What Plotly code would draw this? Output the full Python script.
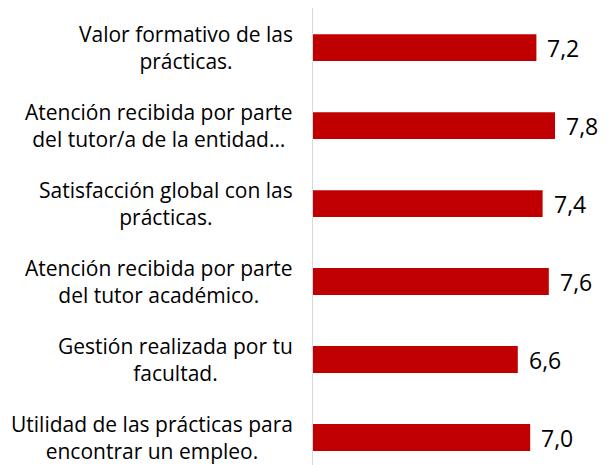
import plotly.graph_objects as go

categories = [
    "Valor formativo de las<br>prácticas.",
    "Atención recibida por parte<br>del tutor/a de la entidad…",
    "Satisfacción global con las<br>prácticas.",
    "Atención recibida por parte<br>del tutor académico.",
    "Gestión realizada por tu<br>facultad.",
    "Utilidad de las prácticas para<br>encontrar un empleo.",
]
values = [7.2, 7.8, 7.4, 7.6, 6.6, 7.0]
value_labels = ["7,2", "7,8", "7,4", "7,6", "6,6", "7,0"]

FONT = "Open Sans"
fig = go.Figure()
fig.add_trace(go.Bar(
    x=values, y=categories, orientation="h",
    marker=dict(color="#C00000", line=dict(width=0)),
    hoverinfo="skip",
))

annotations = []
for c in categories:
    annotations.append(dict(
        x=0, y=c, xref="x", yref="y", text=c, showarrow=False,
        xanchor="right", yanchor="middle", align="center", xshift=-18,
        font=dict(family=FONT, size=21, color="#000000"),
    ))
for c, v, t in zip(categories, values, value_labels):
    annotations.append(dict(
        x=v, y=c, xref="x", yref="y", text=t, showarrow=False,
        xanchor="left", yanchor="middle", xshift=9,
        font=dict(family=FONT, size=23, color="#000000"),
    ))

fig.update_layout(
    width=599, height=457,
    margin=dict(l=305, r=0, t=0, b=0),
    paper_bgcolor="white", plot_bgcolor="white",
    bargap=0.655, showlegend=False,
    annotations=annotations,
    xaxis=dict(range=[0, 9.475], showgrid=False, zeroline=False,
               showticklabels=False, showline=False, ticks=""),
    yaxis=dict(range=[5.352, -0.508], showgrid=False, zeroline=False,
               showticklabels=False, showline=True, linecolor="#d9d9d9",
               linewidth=1, ticks="", type="category"),
)
fig.write_html("out.html")
